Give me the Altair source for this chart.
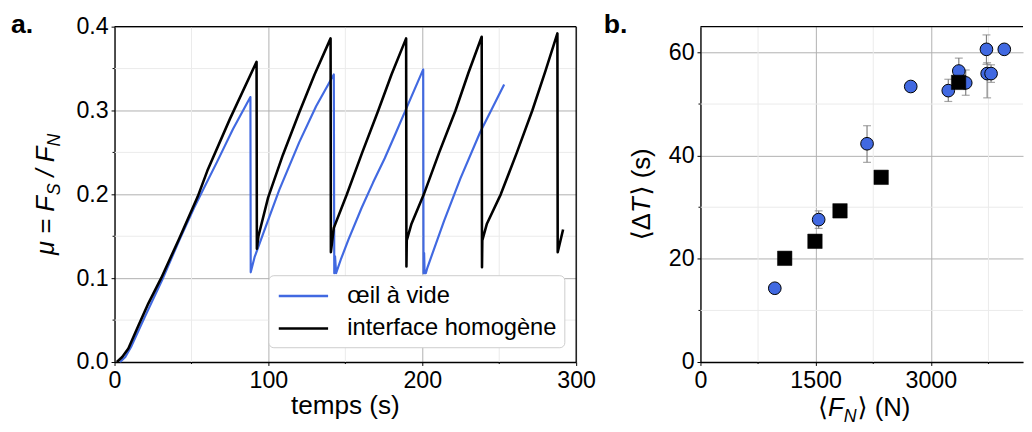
import altair as alt
import pandas as pd

FONT = "Liberation Sans, Arial, DejaVu Sans"
BLUE = "#4169E1"

# ---------------- panel a data ----------------
series_names = ["œil à vide", "interface homogène"]

t_vide = [3.6, 7, 11, 20, 31, 42, 51.7, 66.7, 77, 88.3, 88.5, 91, 96.6, 107, 120, 131, 142.5,
          142.8, 143.3, 144.0, 147, 152, 160.6, 168, 175.6, 182.5, 189.5, 200.6, 200.8, 201.2,
          201.5, 202.3, 203.4, 214.1, 224.8, 237.6, 253.2]
mu_vide = [0.0, 0.006, 0.019, 0.055, 0.098, 0.145, 0.184, 0.239, 0.278, 0.316, 0.107, 0.125, 0.153,
           0.205, 0.262, 0.305, 0.343, 0.106, 0.126, 0.106, 0.122, 0.146, 0.184, 0.214, 0.243,
           0.272, 0.302, 0.349, 0.106, 0.13, 0.106, 0.106, 0.113, 0.168, 0.219, 0.274, 0.331]

t_homo = [1.5, 5, 9, 15.4, 22, 30.3, 42, 54, 60.3, 75, 92.3, 92.5, 93.5, 99.8, 109.4, 120.1, 130,
          140.4, 140.6, 142.5, 151, 161, 171.4, 180, 189.5, 189.7, 189.9, 193, 201, 211, 221.6,
          230, 238.6, 238.8, 239.0, 242, 251, 261.5, 271.5, 280, 287.8, 288.0, 291.5]
mu_homo = [0.0, 0.006, 0.016, 0.043, 0.07, 0.1, 0.147, 0.197, 0.228, 0.29, 0.358, 0.135, 0.15,
           0.196, 0.247, 0.298, 0.343, 0.386, 0.131, 0.16, 0.2, 0.25, 0.3, 0.343, 0.386, 0.114,
           0.145, 0.165, 0.2, 0.25, 0.3, 0.345, 0.388, 0.113, 0.145, 0.165, 0.2, 0.25, 0.3, 0.347,
           0.392, 0.131, 0.158]

xticks_a = [0, 100, 200, 300]
yticks_a = [0.0, 0.1, 0.2, 0.3, 0.4]
xminor_a = [50, 150, 250]
yminor_a = [0.05, 0.15, 0.25, 0.35]

# ---------------- panel b data ----------------
fn_circ = [968, 1539, 2169, 2738, 3227, 3364, 3454, 3724, 3733, 3784, 3956]
dt_circ = [14.3, 27.6, 42.3, 53.4, 52.6, 56.4, 54.1, 60.6, 55.9, 55.9, 60.6]
dt_lo = [13.5, 25.9, 38.7, 52.6, 50.5, 54.0, 51.7, 57.7, 51.2, 54.2, 60.0]
dt_hi = [15.1, 29.3, 45.8, 54.2, 54.8, 58.9, 56.6, 63.4, 58.0, 57.6, 61.2]
fn_sq = [1097, 1491, 1817, 2353, 3361]
dt_sq = [20.1, 23.4, 29.3, 35.8, 54.2]

xticks_b = [0, 1500, 3000]
yticks_b = [0, 20, 40, 60]
xminor_b = [750, 2250, 3750]
yminor_b = [10, 30, 50]

# ---------------- layout constants ----------------
WA, HA = 468, 340
WB, HB = 327, 340
GRID_MINOR = "#ebebeb"
ONE = alt.Data(values=[{}])

df_vide = pd.DataFrame({"t": t_vide, "mu": mu_vide, "serie": series_names[0], "k": range(len(t_vide))})
df_homo = pd.DataFrame({"t": t_homo, "mu": mu_homo, "serie": series_names[1], "k": range(len(t_homo))})

W = {"μ": 576, " ": 278, "=": 584, "F": 611, "S": 667, "/": 278, "N": 722, "⟨": 390, "⟩": 390,
     "Δ": 668, "T": 611, "(": 333, ")": 333, "s": 500}


def text_w(s, size):
    return sum(W.get(c, 556) for c in s) / 1000 * size


def rich(pieces, x0, y0, vertical):
    total = sum(text_w(p[0], p[1]) + p[4] for p in pieces)
    start = (y0 + total / 2) if vertical else (x0 - total / 2)
    pos = 0
    layers = []
    for txt, size, style, shift, gap in pieces:
        pos += gap
        if vertical:
            enc = dict(x=alt.value(x0 + shift), y=alt.value(start - pos))
            mk = dict(angle=270)
        else:
            enc = dict(x=alt.value(start + pos), y=alt.value(y0 + shift))
            mk = {}
        layers.append(
            alt.Chart(ONE).mark_text(align="left", baseline="alphabetic", fontSize=size,
                                     fontStyle=style, font=FONT, color="black", **mk)
            .encode(text=alt.value(txt), **enc)
        )
        pos += text_w(txt, size)
    return layers


def label(txt, x, y):
    return alt.Chart(ONE).mark_text(align="left", baseline="alphabetic", fontSize=27,
                                    fontWeight="bold", font=FONT, color="black").encode(
        x=alt.value(x), y=alt.value(y), text=alt.value(txt))


def spine(x, x2, y, y2):
    return alt.Chart(ONE).mark_rule(color="black", strokeWidth=1.3).encode(
        x=alt.value(x), x2=alt.value(x2), y=alt.value(y), y2=alt.value(y2))


# ---------------- panel a ----------------
xs_a = alt.Scale(domain=[0, 300], nice=False)
ys_a = alt.Scale(domain=[0, 0.4], nice=False)
ax_xa = alt.Axis(values=xticks_a, format="d", grid=True, title=None)
ax_ya = alt.Axis(values=yticks_a, format=".1f", grid=True, title=None)

gx_a = alt.Chart(pd.DataFrame({"v": xminor_a})).mark_rule(color=GRID_MINOR, strokeWidth=1).encode(
    x=alt.X("v:Q", scale=xs_a, axis=ax_xa))
gy_a = alt.Chart(pd.DataFrame({"v": yminor_a})).mark_rule(color=GRID_MINOR, strokeWidth=1).encode(
    y=alt.Y("v:Q", scale=ys_a, axis=ax_ya))
tx_a = alt.Chart(pd.DataFrame({"v": xminor_a})).mark_rule(color="black", strokeWidth=1).encode(
    x=alt.X("v:Q", scale=xs_a, axis=ax_xa), y=alt.value(HA), y2=alt.value(HA + 2))
ty_a = alt.Chart(pd.DataFrame({"v": yminor_a})).mark_rule(color="black", strokeWidth=1).encode(
    y=alt.Y("v:Q", scale=ys_a, axis=ax_ya), x=alt.value(-2), x2=alt.value(0))

color_enc = alt.Color(
    "serie:N",
    scale=alt.Scale(domain=series_names, range=[BLUE, "black"]),
    legend=alt.Legend(title=None, orient="none", legendX=156, legendY=252,
                      symbolType="M-2,0H2", symbolSize=625, symbolStrokeWidth=2.5,
                      symbolOffset=14.5, labelFontSize=24, labelFont=FONT, labelColor="black",
                      labelOffset=30.5, labelLimit=500, rowPadding=7, padding=7,
                      cornerRadius=5, fillColor="white", strokeColor="#cccccc"),
)

line_v = alt.Chart(df_vide).mark_line(strokeWidth=2.2, strokeJoin="round").encode(
    x=alt.X("t:Q", scale=xs_a, axis=ax_xa),
    y=alt.Y("mu:Q", scale=ys_a, axis=ax_ya),
    color=color_enc, order="k:Q")
line_h = alt.Chart(df_homo).mark_line(strokeWidth=2.6, strokeJoin="round").encode(
    x=alt.X("t:Q", scale=xs_a, axis=ax_xa),
    y=alt.Y("mu:Q", scale=ys_a, axis=ax_ya),
    color=color_enc, order="k:Q")

title_a_y = rich([("μ = F", 26, "italic", 0, 0), ("S", 18, "italic", 6, 0),
                  ("/ F", 26, "italic", 0, 7), ("N", 18, "italic", 6, 0)], -61, HA / 2, True)
title_a_x = alt.Chart(ONE).mark_text(align="center", baseline="alphabetic", fontSize=26.5,
                                     font=FONT, color="black").encode(
    x=alt.value(WA / 2), y=alt.value(393), text=alt.value("temps (s)"))

panel_a = alt.layer(
    gx_a, gy_a, line_v, line_h, tx_a, ty_a,
    spine(0, WA, 0, 0), spine(WA, WA, 0, HA),
    title_a_x, *title_a_y, label("a.", -105, 6),
).properties(width=WA, height=HA)

# ---------------- panel b ----------------
xs_b = alt.Scale(domain=[0, 4200], nice=False)
ys_b = alt.Scale(domain=[0, 65], nice=False)
ax_xb = alt.Axis(values=xticks_b, format="d", grid=True, title=None)
ax_yb = alt.Axis(values=yticks_b, format="d", grid=True, title=None)

df_c = pd.DataFrame({"fn": fn_circ, "dt": dt_circ, "lo": dt_lo, "hi": dt_hi})
df_s = pd.DataFrame({"fn": fn_sq, "dt": dt_sq})

gx_b = alt.Chart(pd.DataFrame({"v": xminor_b})).mark_rule(color=GRID_MINOR, strokeWidth=1).encode(
    x=alt.X("v:Q", scale=xs_b, axis=ax_xb))
gy_b = alt.Chart(pd.DataFrame({"v": yminor_b})).mark_rule(color=GRID_MINOR, strokeWidth=1).encode(
    y=alt.Y("v:Q", scale=ys_b, axis=ax_yb))
tx_b = alt.Chart(pd.DataFrame({"v": xminor_b})).mark_rule(color="black", strokeWidth=1).encode(
    x=alt.X("v:Q", scale=xs_b, axis=ax_xb), y=alt.value(HB), y2=alt.value(HB + 2))
ty_b = alt.Chart(pd.DataFrame({"v": yminor_b})).mark_rule(color="black", strokeWidth=1).encode(
    y=alt.Y("v:Q", scale=ys_b, axis=ax_yb), x=alt.value(-2), x2=alt.value(0))

err = alt.Chart(df_c).mark_rule(color="#808080", strokeWidth=1.2).encode(
    x=alt.X("fn:Q", scale=xs_b, axis=ax_xb),
    y=alt.Y("lo:Q", scale=ys_b, axis=ax_yb),
    y2="hi:Q")
cap_lo = alt.Chart(df_c).mark_tick(color="#808080", orient="horizontal", size=8, thickness=1.2).encode(
    x=alt.X("fn:Q", scale=xs_b, axis=ax_xb), y=alt.Y("lo:Q", scale=ys_b, axis=ax_yb))
cap_hi = alt.Chart(df_c).mark_tick(color="#808080", orient="horizontal", size=8, thickness=1.2).encode(
    x=alt.X("fn:Q", scale=xs_b, axis=ax_xb), y=alt.Y("hi:Q", scale=ys_b, axis=ax_yb))
circ = alt.Chart(df_c).mark_point(shape="circle", filled=True, fill=BLUE, stroke="black",
                                  strokeWidth=1, size=165, opacity=1).encode(
    x=alt.X("fn:Q", scale=xs_b, axis=ax_xb), y=alt.Y("dt:Q", scale=ys_b, axis=ax_yb))
sq = alt.Chart(df_s).mark_point(shape="square", filled=True, fill="black", stroke="black",
                                strokeWidth=0.5, size=215, opacity=1).encode(
    x=alt.X("fn:Q", scale=xs_b, axis=ax_xb), y=alt.Y("dt:Q", scale=ys_b, axis=ax_yb))

title_b_y = rich([("⟨Δ", 26, "normal", 0, 0), ("T", 26, "italic", 0, 0),
                  ("⟩ (s)", 26, "normal", 0, 2)], -51, HB / 2, True)
title_b_x = rich([("⟨", 26, "normal", 0, 0), ("F", 26, "italic", 0, 0), ("N", 18, "italic", 6, 0),
                  ("⟩ (N)", 26, "normal", 0, 1)], 166, 395, False)

panel_b = alt.layer(
    gx_b, gy_b, err, cap_lo, cap_hi, circ, sq, tx_b, ty_b,
    spine(0, WB, 0, 0),
    *title_b_y, *title_b_x, label("b.", -98, 6),
).properties(width=WB, height=HB)

chart = alt.hconcat(panel_a, panel_b, spacing=8).properties(
    padding={"left": 3, "top": 0, "right": 0, "bottom": 0}
).configure_view(stroke=None).configure_axis(
    labelFont=FONT, labelFontSize=23.5, labelColor="black", tickColor="black", tickSize=3.5,
    tickWidth=1, domainColor="black", domainWidth=1.3, gridColor="#b0b0b0", gridWidth=1,
    labelPadding=3, labelFlush=False,
)

chart.save("out.html", embed_options={"renderer": "svg", "actions": False})
